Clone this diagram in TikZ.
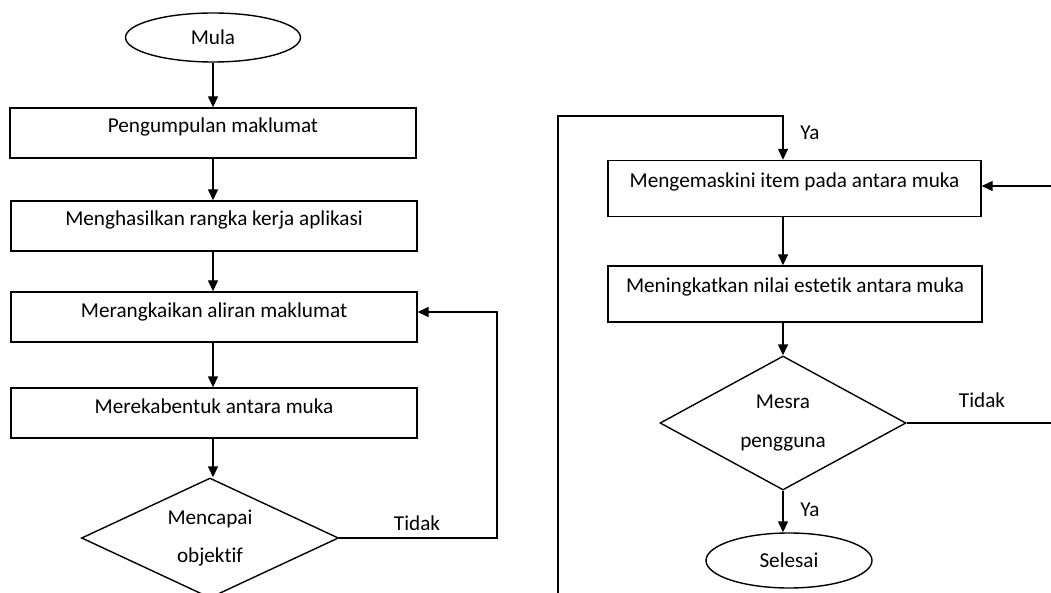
\documentclass[tikz,border=0pt]{standalone}
\usepackage{fontspec}
\setmainfont[Ligatures={NoCommon}]{Carlito}
\usetikzlibrary{shapes.geometric,arrows.meta,calc}
\begin{document}
\begin{tikzpicture}[x=1pt,y=-1pt,
  font=\fontsize{21.2}{38}\selectfont,
  line width=1.4pt,
  >={Triangle[length=11pt,width=10pt]},
  box/.style={draw, rectangle, inner sep=0pt, minimum width=406pt, text height=25pt, text depth=25pt},
  boxr/.style={draw, rectangle, inner sep=0pt, minimum width=373pt, text height=27pt, text depth=29pt},
  term/.style={draw, ellipse, inner sep=0pt},
  decide/.style={draw, diamond, inner sep=0pt, align=center},
  lbl/.style={inner sep=0pt}]
\useasboundingbox (0,0) rectangle (1051,593);
\clip (0,0) rectangle (1051,593);
% left column
\node[term, minimum width=175pt, minimum height=49pt] (mula) at (213,37.5) {Mula};
\node[box] (b1) at (213,133) {Pengumpulan maklumat};
\node[box] (b2) at (214,226) {Menghasilkan rangka kerja aplikasi};
\node[box] (b3) at (214,317) {Merangkaikan aliran maklumat};
\node[box] (b4) at (214,413) {Merekabentuk antara muka};
\node[decide, aspect=2.14, minimum width=257pt, minimum height=120pt] (d1) at (210,538) {Mencapai\\objektif};
\node[lbl] (t1) at (417,523) {Tidak};
\coordinate (loopTop) at (497,312);
\draw[->] (mula.south -| b1.north) -- (b1.north);
\draw[->] (b1.south -| mula.south) -- (b2.north -| mula.south);
\draw[->] (b2.south -| mula.south) -- (b3.north -| mula.south);
\draw[->] (b3.south -| mula.south) -- (b4.north -| mula.south);
\draw[->] (b4.south -| mula.south) -- (d1.north -| mula.south);
\draw[->] (d1.east) -| (loopTop) -- ([yshift=5pt]b3.east);
% right column
\node[boxr] (b5) at (794.5,188.5) {Mengemaskini item pada antara muka};
\node[boxr, minimum width=374pt] (b6) at (795,294) {Meningkatkan nilai estetik antara muka};
\node[decide, aspect=1.84, minimum width=246pt, minimum height=134pt] (d2) at (783,423) {Mesra\\[1pt]pengguna};
\node[term, minimum width=166pt, minimum height=55pt] (sel) at (789,560.5) {Selesai};
\node[lbl] (ya1) at (810,133) {Ya};
\node[lbl] (t2) at (982,400) {Tidak};
\node[lbl] (ya2) at (810,510) {Ya};
\coordinate (lb) at (558,600);
\coordinate (lt) at (558,116);
\coordinate (rin) at (1051,186);
\coordinate (rout) at (1051,423);
\draw[->] (lb) -- (lt) -| (b5.north -| d2.north);
\draw[->] (rin) -- (rin -| b5.east);
\draw[->] (b5.south -| d2.north) -- (b6.north -| d2.north);
\draw[->] (b6.south -| d2.north) -- (d2.north);
\draw (d2.east) -- (rout);
\draw[->] (d2.south) -- (sel.north -| d2.south);
\end{tikzpicture}
\end{document}
